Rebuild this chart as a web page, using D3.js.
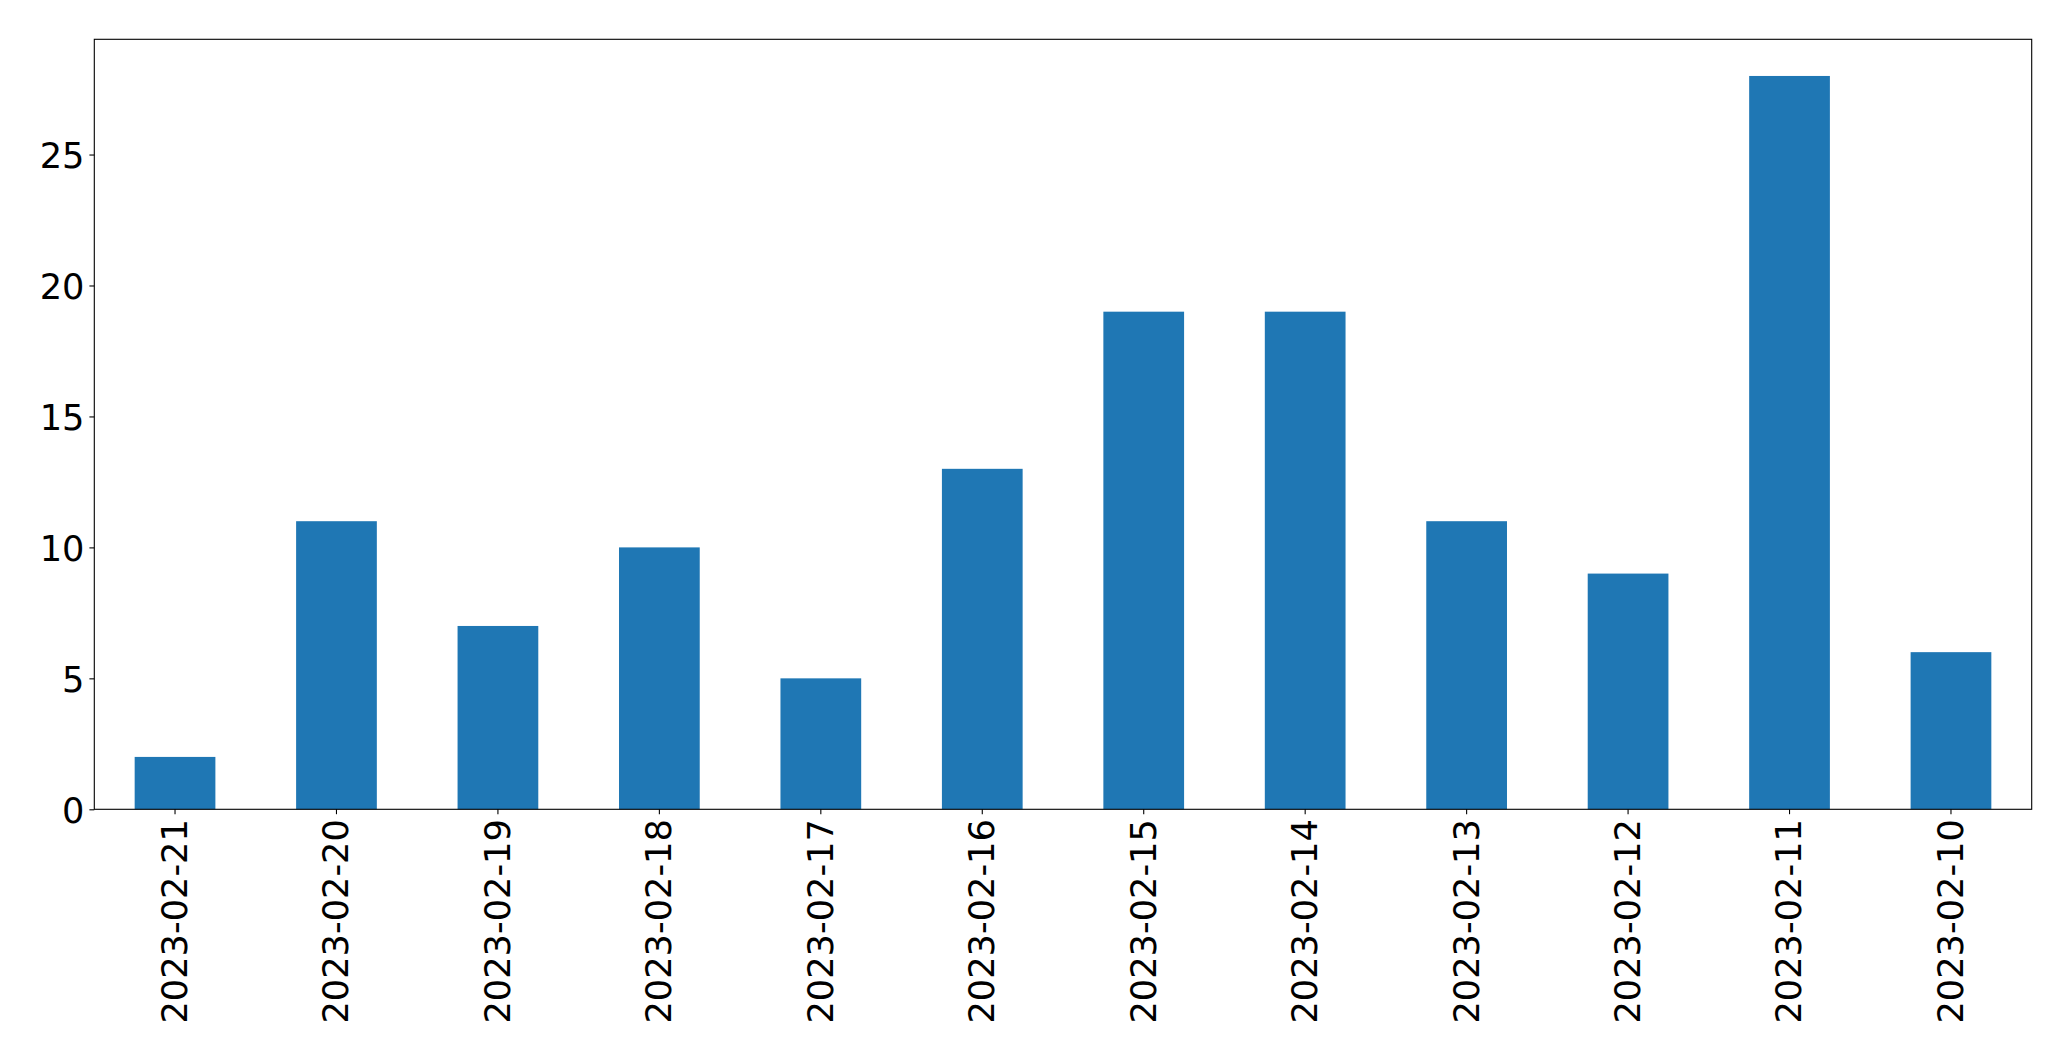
<!DOCTYPE html>
<html><head><meta charset="utf-8">
<script src="https://cdn.jsdelivr.net/npm/d3@7"></script>
<style>body{margin:0;background:#fff}svg{display:block}</style>
</head><body>
<script>
const categories = ["2023-02-21","2023-02-20","2023-02-19","2023-02-18","2023-02-17","2023-02-16","2023-02-15","2023-02-14","2023-02-13","2023-02-12","2023-02-11","2023-02-10"];
const values = [2,11,7,10,5,13,19,19,11,9,28,6];
const yTicks = [0,5,10,15,20,25];

const W=2071,H=1061;
const mLeft=94.3,mRight=2031.7,mTop=39.3,mBottom=809.3;
const fs=35.2;
const svg=d3.select("body").append("svg").attr("width",W).attr("height",H);
const x=d3.scaleBand().domain(categories).range([mLeft,mRight]).paddingInner(0.5).paddingOuter(0.25);
const y=d3.scaleLinear().domain([0,d3.max(values)*1.05]).range([mBottom,mTop]);
svg.append("g").selectAll("rect").data(values).join("rect")
  .attr("x",(d,i)=>x(categories[i])).attr("width",x.bandwidth())
  .attr("y",d=>y(d)).attr("height",d=>y(0)-y(d)).attr("fill","#1f77b4");
const font="DejaVu Sans";
const ya=svg.append("g").attr("transform",`translate(${mLeft},0)`)
  .call(d3.axisLeft(y).tickValues(yTicks).tickSize(4.9).tickPadding(4.9).tickFormat(d3.format("d")));
ya.select(".domain").remove();
ya.selectAll("text").attr("font-family",font).attr("font-size",fs).attr("fill","#000").attr("dy","0.38em");
ya.selectAll("line").attr("stroke","#000").attr("stroke-width",1.1);
const xa=svg.append("g").attr("transform",`translate(0,${mBottom})`)
  .call(d3.axisBottom(x).tickSize(4.9).tickPadding(4.9));
xa.select(".domain").remove();
xa.selectAll("line").attr("stroke","#000").attr("stroke-width",1.1);
xa.selectAll("text").attr("font-family",font).attr("font-size",fs).attr("fill","#000")
  .attr("transform","rotate(-90)").attr("text-anchor","end").attr("dy","0.34em")
  .attr("x",-9.8).attr("y",0);
svg.append("rect").attr("x",mLeft).attr("y",mTop).attr("width",mRight-mLeft).attr("height",mBottom-mTop)
  .attr("fill","none").attr("stroke","#000").attr("stroke-width",1.1);
</script>
</body></html>
